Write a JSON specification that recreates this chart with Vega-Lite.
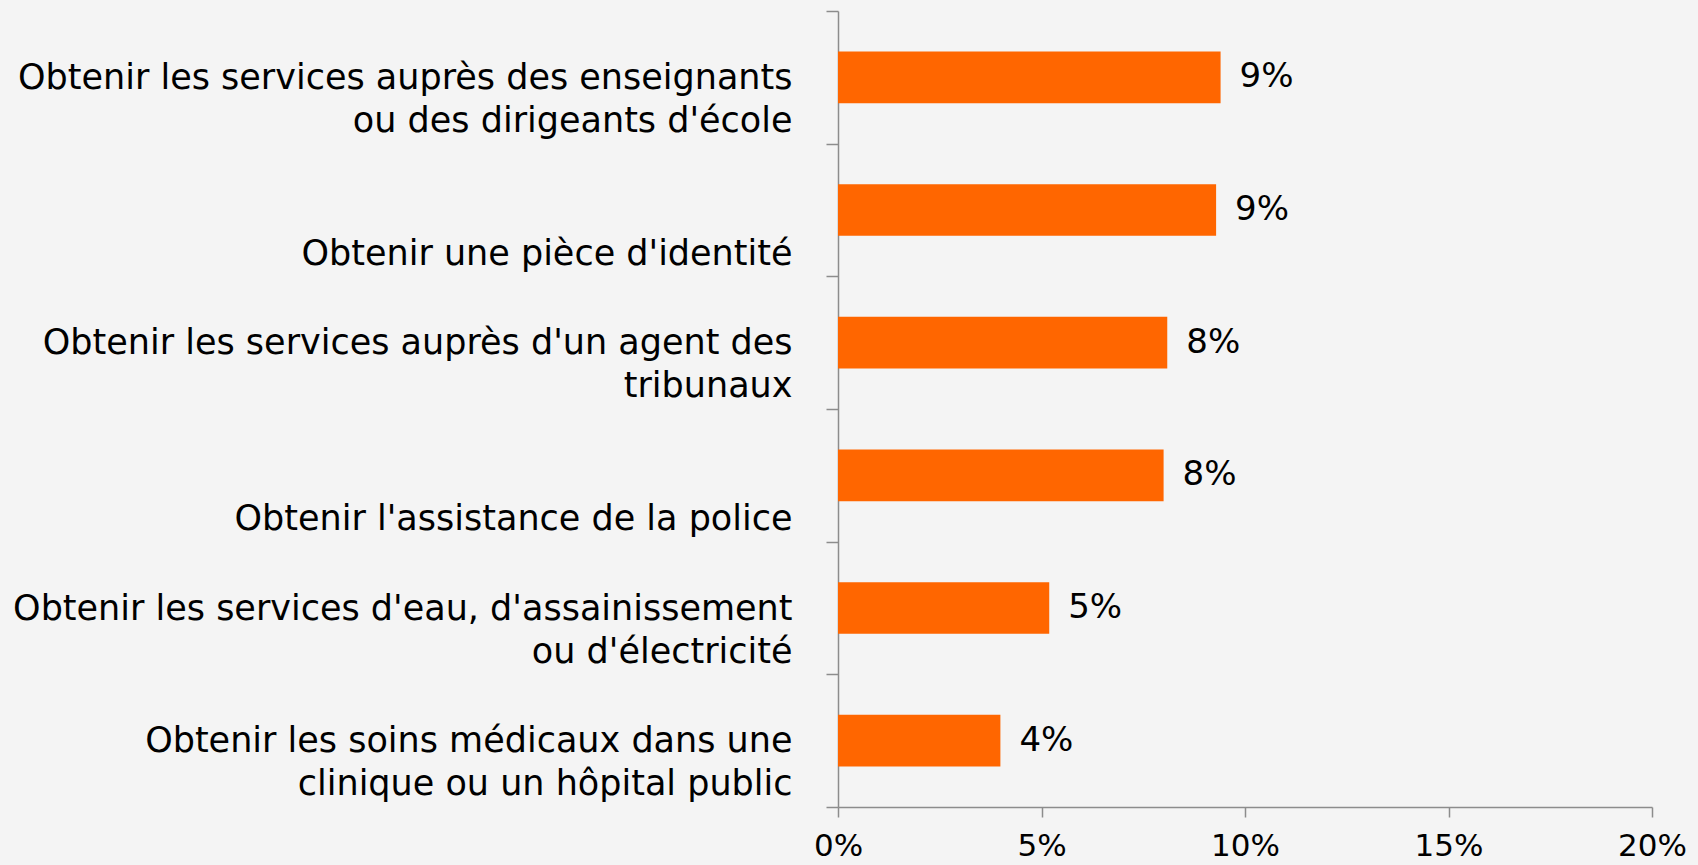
{
  "$schema": "https://vega.github.io/schema/vega-lite/v6.json",
  "width": 814,
  "height": 796,
  "autosize": "none",
  "padding": {"left": 838, "top": 11, "right": 46, "bottom": 58},
  "background": "#f4f4f4",
  "config": {
    "view": {"stroke": null},
    "font": "DejaVu Sans",
    "axis": {"labelFont": "DejaVu Sans", "labelColor": "#000000", "domainColor": "#8c8c8c", "tickColor": "#8c8c8c", "domainWidth": 1.5, "tickWidth": 1.5, "grid": false, "title": null}
  },
  "data": {
    "values": [
      {"service": "Obtenir les services auprès des enseignants|ou des dirigeants d'école", "value": 9.4, "label": "9%"},
      {"service": "Obtenir une pièce d'identité", "value": 9.29, "label": "9%"},
      {"service": "Obtenir les services auprès d'un agent des|tribunaux", "value": 8.09, "label": "8%"},
      {"service": "Obtenir l'assistance de la police", "value": 8.0, "label": "8%"},
      {"service": "Obtenir les services d'eau, d'assainissement|ou d'électricité", "value": 5.19, "label": "5%"},
      {"service": "Obtenir les soins médicaux dans une|clinique ou un hôpital public", "value": 3.99, "label": "4%"}
    ]
  },
  "encoding": {
    "y": {
      "field": "service",
      "type": "nominal",
      "sort": null,
      "scale": {"paddingInner": 0, "paddingOuter": 0},
      "axis": {
        "labelExpr": "length(split(datum.label, '|')) == 1 ? ['', datum.label] : split(datum.label, '|')",
        "labelFontSize": 35,
        "labelLineHeight": 43,
        "labelBaseline": "top",
        "labelOffset": -17,
        "labelAlign": "right",
        "labelPadding": 34,
        "labelLimit": 900,
        "tickSize": 12,
        "tickBand": "extent"
      }
    },
    "x": {
      "field": "value",
      "type": "quantitative",
      "scale": {"domain": [0, 20], "nice": false},
      "axis": {
        "values": [0, 5, 10, 15, 20],
        "labelExpr": "datum.value + '%'",
        "labelFontSize": 31,
        "labelBaseline": "top",
        "labelPadding": 14,
        "tickSize": 10,
        "labelFlush": false
      }
    }
  },
  "layer": [
    {"mark": {"type": "bar", "color": "#ff6600", "height": {"band": 0.39}}},
    {
      "mark": {"type": "text", "align": "left", "baseline": "middle", "dx": 19, "fontSize": 34, "color": "#000000"},
      "encoding": {"text": {"field": "label"}}
    }
  ]
}
